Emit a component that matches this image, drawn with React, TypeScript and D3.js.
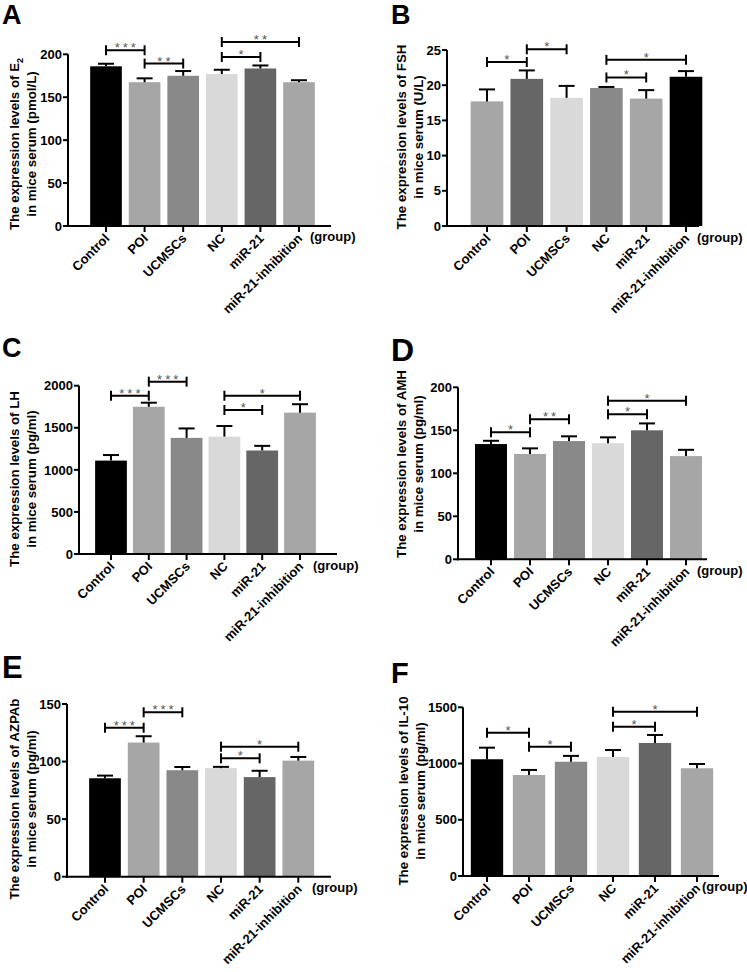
import React from "react";
import * as d3 from "d3";

// ---------- data ----------
const groups = ["Control", "POI", "UCMSCs", "NC", "miR-21", "miR-21-inhibition"];

const e2Mean = [186, 167.5, 175, 177, 183.5, 167.5];
const e2Sd = [3, 4.5, 5.5, 5, 3.5, 2.3];
const e2Ticks = [0, 50, 100, 150, 200];
const e2Sig: [number, number, string, number][] = [
  [0, 1, "***", 204.7],
  [1, 2, "**", 189.2],
  [3, 4, "*", 196.9],
  [3, 5, "**", 214.3],
];

const fshMean = [17.7, 20.9, 18.2, 19.6, 18.1, 21.2];
const fshSd = [1.7, 1.2, 1.7, 0.15, 1.2, 0.8];
const fshTicks = [0, 5, 10, 15, 20, 25];
const fshSig: [number, number, string, number][] = [
  [0, 1, "*", 23.3],
  [1, 2, "*", 25.1],
  [3, 4, "*", 21.1],
  [3, 5, "*", 23.6],
];

const lhMean = [1110, 1750, 1380, 1395, 1230, 1680];
const lhSd = [66, 48, 112, 126, 55, 100];
const lhTicks = [0, 500, 1000, 1500, 2000];
const lhSig: [number, number, string, number][] = [
  [0, 1, "***", 1881],
  [1, 2, "***", 2048],
  [3, 4, "*", 1711],
  [3, 5, "*", 1881],
];

const amhMean = [134, 122.5, 137.5, 135, 150, 120];
const amhSd = [3.8, 6.5, 5.5, 6.8, 8, 7.3];
const amhTicks = [0, 50, 100, 150, 200];
const amhSig: [number, number, string, number][] = [
  [0, 1, "*", 147.7],
  [1, 2, "**", 162.8],
  [3, 4, "*", 168.6],
  [3, 5, "*", 184.4],
];

const azpMean = [85.5, 116.5, 92.5, 94.3, 86.5, 100.8];
const azpSd = [2.3, 5.5, 2.8, 1.1, 5.5, 3.2];
const azpTicks = [0, 50, 100, 150];
const azpSig: [number, number, string, number][] = [
  [0, 1, "***", 129.4],
  [1, 2, "***", 142.8],
  [3, 4, "*", 102.8],
  [3, 5, "*", 112.9],
];

const il10Mean = [1038, 898, 1016, 1058, 1183, 958];
const il10Sd = [103, 45, 52, 62, 71, 38];
const il10Ticks = [0, 500, 1000, 1500];
const il10Sig: [number, number, string, number][] = [
  [0, 1, "*", 1274],
  [1, 2, "*", 1150],
  [3, 4, "*", 1327],
  [3, 5, "*", 1461],
];

// ---------- styles ----------
const BLK = "#000000";
const LGT = "#a6a6a6";
const MID = "#898989";
const PAL = "#d9d9d9";
const DRK = "#666666";
const stdColors = [BLK, LGT, MID, PAL, DRK, LGT];
const fshColors = [LGT, DRK, PAL, MID, LGT, BLK];

const FONT = "'Liberation Sans', Arial, Helvetica, sans-serif";

type PanelCfg = {
  letter: string; lx: number; ly: number; lsize: number;
  axisX: number; y0: number; yTop: number; xEnd: number;
  c0: number; c1: number; pad: number;
  t1x: number; t2x: number; ty: number;
  groupX: number; groupY: number;
  line1: string; sub?: string; line2: string;
  mean: number[]; sd: number[]; ticks: number[];
  sig: [number, number, string, number][]; colors: string[];
};

const panels: PanelCfg[] = [
  { letter: "A", lx: 2, ly: 24, lsize: 27, axisX: 68, y0: 226, yTop: 54.3, xEnd: 331, c0: 106, c1: 299, pad: 0.18,
    t1x: 14, t2x: 31, ty: 144, groupX: 310, groupY: 236,
    line1: "The expression levels of E", sub: "2", line2: "in mice serum (pmol/L)",
    mean: e2Mean, sd: e2Sd, ticks: e2Ticks, sig: e2Sig, colors: stdColors },
  { letter: "B", lx: 391, ly: 24, lsize: 27, axisX: 447, y0: 226, yTop: 50, xEnd: 699, c0: 487, c1: 686, pad: 0.18,
    t1x: 401, t2x: 418, ty: 137, groupX: 697, groupY: 237,
    line1: "The expression levels of FSH", line2: "in mice serum (U/L)",
    mean: fshMean, sd: fshSd, ticks: fshTicks, sig: fshSig, colors: fshColors },
  { letter: "C", lx: 2, ly: 357, lsize: 27, axisX: 79, y0: 554, yTop: 385.7, xEnd: 337, c0: 111, c1: 300, pad: 0.16,
    t1x: 14, t2x: 31, ty: 479, groupX: 313, groupY: 565,
    line1: "The expression levels of LH", line2: "in mice serum (pg/ml)",
    mean: lhMean, sd: lhSd, ticks: lhTicks, sig: lhSig, colors: stdColors },
  { letter: "D", lx: 391, ly: 361, lsize: 32, axisX: 458, y0: 559.3, yTop: 387.3, xEnd: 707, c0: 491, c1: 686, pad: 0.18,
    t1x: 401, t2x: 418, ty: 464, groupX: 697, groupY: 570,
    line1: "The expression levels of AMH", line2: "in mice serum (pg/ml)",
    mean: amhMean, sd: amhSd, ticks: amhTicks, sig: amhSig, colors: stdColors },
  { letter: "E", lx: 2, ly: 678, lsize: 31, axisX: 67, y0: 876.7, yTop: 704, xEnd: 331, c0: 105, c1: 298.3, pad: 0.18,
    t1x: 14, t2x: 31, ty: 799, groupX: 312, groupY: 887,
    line1: "The expression levels of AZPAb", line2: "in mice serum (pg/ml)",
    mean: azpMean, sd: azpSd, ticks: azpTicks, sig: azpSig, colors: stdColors },
  { letter: "F", lx: 391, ly: 683, lsize: 29, axisX: 463, y0: 876, yTop: 707.3, xEnd: 719, c0: 487, c1: 697, pad: 0.23,
    t1x: 403, t2x: 420, ty: 791, groupX: 702, groupY: 886,
    line1: "The expression levels of IL-10", line2: "in mice serum (pg/ml)",
    mean: il10Mean, sd: il10Sd, ticks: il10Ticks, sig: il10Sig, colors: stdColors },
];

function Panel({ p }: { p: PanelCfg }) {
  const step = (p.c1 - p.c0) / (groups.length - 1);
  const x = d3.scaleBand<string>()
    .domain(groups)
    .range([p.c0 - step / 2, p.c1 + step / 2])
    .paddingInner(p.pad)
    .paddingOuter(p.pad / 2);
  const yMax = p.ticks[p.ticks.length - 1];
  const y = d3.scaleLinear().domain([0, yMax]).range([p.y0, p.yTop]);
  const bw = x.bandwidth();
  const cx = (g: string) => (x(g) as number) + bw / 2;
  const capW = 16;

  return (
    <g fontFamily={FONT} fontWeight="bold">
      <text x={p.lx} y={p.ly} fontSize={p.lsize} fill="#000">{p.letter}</text>

      {/* bars */}
      {groups.map((g, i) => (
        <rect key={"b" + i} x={x(g)} y={y(p.mean[i])} width={bw} height={p.y0 - y(p.mean[i])} fill={p.colors[i]} />
      ))}
      {/* error bars */}
      {groups.map((g, i) => {
        const top = y(p.mean[i] + p.sd[i]);
        return (
          <g key={"e" + i} stroke="#000" strokeWidth={2}>
            <line x1={cx(g)} x2={cx(g)} y1={y(p.mean[i])} y2={top} />
            <line x1={cx(g) - capW / 2} x2={cx(g) + capW / 2} y1={top} y2={top} />
          </g>
        );
      })}

      {/* y axis */}
      <line x1={p.axisX} x2={p.axisX} y1={p.y0 + 1} y2={y(yMax)} stroke="#000" strokeWidth={2} />
      {p.ticks.map((t) => (
        <g key={"yt" + t}>
          <line x1={p.axisX - 5} x2={p.axisX} y1={y(t)} y2={y(t)} stroke="#000" strokeWidth={2} />
          <text x={p.axisX - 6} y={y(t)} dy="0.36em" textAnchor="end" fontSize={13} fill="#000">{t}</text>
        </g>
      ))}

      {/* x axis */}
      <line x1={p.axisX - 1} x2={p.xEnd} y1={p.y0} y2={p.y0} stroke="#000" strokeWidth={2} />
      {groups.map((g) => (
        <g key={"xt" + g}>
          <line x1={cx(g)} x2={cx(g)} y1={p.y0} y2={p.y0 + 6} stroke="#000" strokeWidth={2} />
          <text transform={`translate(${cx(g) + 1},${p.y0 + 10}) rotate(-45)`} textAnchor="end" dy="0.35em" fontSize={13} fill="#000">{g}</text>
        </g>
      ))}
      <text x={p.groupX} y={p.groupY} dy="0.35em" fontSize={13} fill="#000">(group)</text>

      {/* y title */}
      <text transform={`translate(${p.t1x},${p.ty}) rotate(-90)`} textAnchor="middle" dy="0.35em" fontSize={13.3} fill="#000">
        {p.line1}
        {p.sub ? <tspan fontSize={9} dy={4}>{p.sub}</tspan> : null}
      </text>
      <text transform={`translate(${p.t2x},${p.ty}) rotate(-90)`} textAnchor="middle" dy="0.35em" fontSize={13.3} fill="#000">
        {p.line2}
      </text>

      {/* significance brackets */}
      {p.sig.map(([a, b, label, v], k) => {
        const xa = cx(groups[a]);
        const xb = cx(groups[b]);
        const yy = y(v);
        return (
          <g key={"s" + k}>
            <g stroke="#000" strokeWidth={2}>
              <line x1={xa} x2={xb} y1={yy} y2={yy} />
              <line x1={xa} x2={xa} y1={yy - 5} y2={yy + 5} />
              <line x1={xb} x2={xb} y1={yy - 5} y2={yy + 5} />
            </g>
            <text x={(xa + xb) / 2 + 1.5} y={yy + 2} textAnchor="middle" fontSize={13} fontWeight="normal" fill="#555" letterSpacing={3}>
              {label}
            </text>
          </g>
        );
      })}
    </g>
  );
}

export default function App() {
  return (
    <svg width={747} height={972} style={{ position: "absolute", left: 0, top: 0, background: "#fff" }}>
      <rect x={0} y={0} width={747} height={972} fill="#fff" />
      {panels.map((p) => (
        <Panel key={p.letter} p={p} />
      ))}
    </svg>
  );
}
